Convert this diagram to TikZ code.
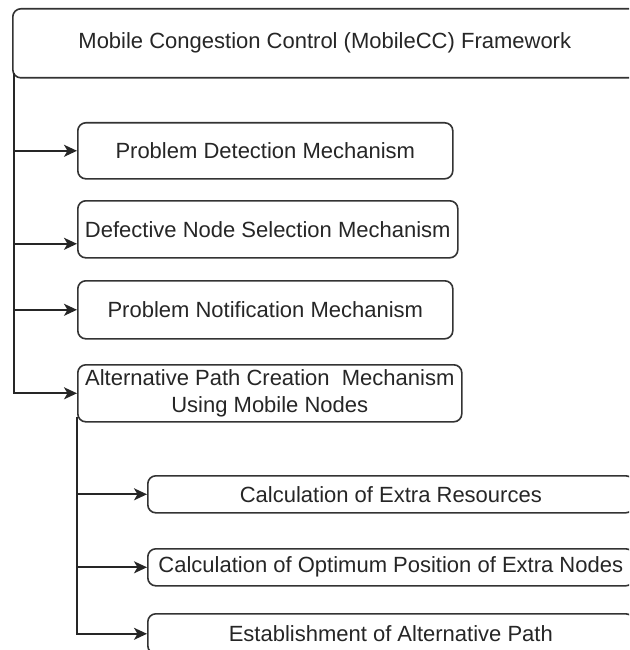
\documentclass[tikz,border=0pt]{standalone}
\usepackage{fontspec}
\setmainfont{Liberation Sans}
\usetikzlibrary{arrows.meta}

\begin{document}
\begin{tikzpicture}[x=1pt, y=-1pt,
    every node/.style={font=\fontsize{22}{27}\selectfont, text=black!85},
    box/.style={draw=black!80, line width=1.6pt, rounded corners=8pt, fill=white, anchor=north west, inner sep=0pt, align=center},
    link/.style={draw=black!85, line width=1.7pt, -{Stealth[length=13pt, width=12pt, inset=3.5pt]}}]
    \useasboundingbox (0,0) rectangle (629,650);
    \clip (0,0) rectangle (629,650);

    % Framework box
    \node[box, minimum width=624pt, minimum height=69pt] (frame) at (12,8) {Mobile Congestion Control (MobileCC) Framework};

    % Mechanisms
    \node[box, minimum width=375pt, minimum height=56pt] (detect) at (77,122) {Problem Detection Mechanism};
    \node[box, minimum width=380pt, minimum height=57pt] (select) at (77,200) {Defective Node Selection Mechanism};
    \node[box, minimum width=375pt, minimum height=58pt] (notify) at (77,280) {Problem Notification Mechanism};
    \node[box, minimum width=384pt, minimum height=57pt] (altpath) at (77,364) {Alternative Path Creation\ \ Mechanism\\Using Mobile Nodes};

    % Steps of the alternative path
    \node[box, minimum width=486pt, minimum height=37pt] (extra) at (147,475) {Calculation of Extra Resources};
    \node[box, minimum width=486pt, minimum height=37pt] (optpos) at (147,548) {Calculation of Optimum Position of Extra Nodes};
    \node[box, minimum width=486pt, minimum height=40pt] (establish) at (147,613) {Establishment of Alternative Path};

    % Trunk from the framework
    \coordinate (trunk) at ([xshift=2pt, yshift=6pt]frame.south west);
    \coordinate (selin) at ([yshift=-14.5pt]select.west);
    \draw[link] (trunk) |- (altpath.west);
    \draw[link] (trunk |- detect.west) -- (detect.west);
    \draw[link] (trunk |- selin) -- (selin);
    \draw[link] (trunk |- notify.west) -- (notify.west);

    % Trunk from the alternative path box
    \coordinate (branch) at ([yshift=6pt]altpath.south west);
    \draw[link] (branch) |- (establish.west);
    \draw[link] (branch |- extra.west) -- (extra.west);
    \draw[link] (branch |- optpos.west) -- (optpos.west);
\end{tikzpicture}
\end{document}
